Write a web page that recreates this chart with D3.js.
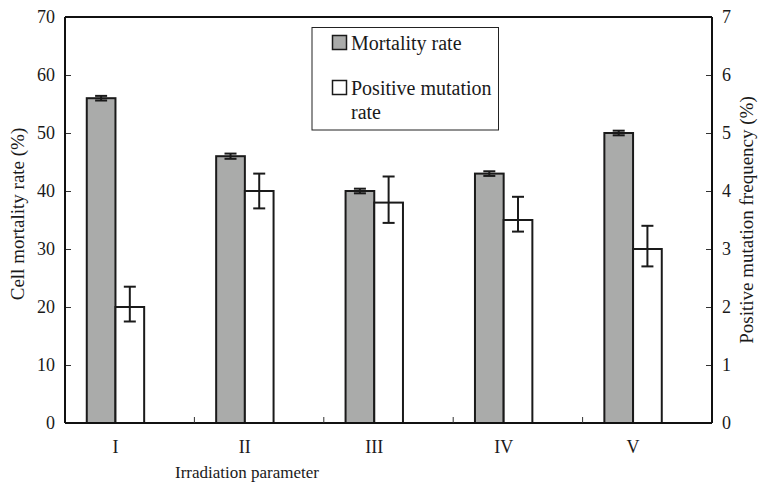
<!DOCTYPE html>
<html lang="en">
<head>
<meta charset="UTF-8">
<title>Irradiation parameter</title>
<script src="https://cdn.jsdelivr.net/npm/d3@7/dist/d3.min.js"></script>
<style>
  body { margin: 0; background: #fff; }
  svg, text { font-family: "Liberation Serif", "DejaVu Serif", serif; }
  text { fill: #1a1a1a; }
</style>
</head>
<body>
<svg width="758" height="484"></svg>
<script>
// data
var categories = ['I', 'II', 'III', 'IV', 'V'];
var mortality = [56, 46, 40, 43, 50];
var mortalityErr = [0.4, 0.45, 0.4, 0.4, 0.4];
var mutation = [2.0, 4.0, 3.8, 3.5, 3.0];
var mutationHigh = [2.35, 4.3, 4.25, 3.9, 3.4];
var mutationLow = [1.75, 3.7, 3.45, 3.3, 2.7];
var leftTicks = [0, 10, 20, 30, 40, 50, 60, 70];
var rightTicks = [0, 1, 2, 3, 4, 5, 6, 7];

var svg = d3.select('svg');
// plot edges (note: "top" is taken by window.top)
var pLeft = 65, pRight = 712, pTop = 17, pBottom = 423;
var serif = '"Liberation Serif", "DejaVu Serif", serif';

var x = d3.scaleBand().domain(categories).range([pLeft, pRight]);
var yL = d3.scaleLinear().domain([0, 70]).range([pBottom, pTop]);
var yR = d3.scaleLinear().domain([0, 7]).range([pBottom, pTop]);

var barW = 28.7;
var centerOff = x.bandwidth() * 0.39; // bars sit left of band centre
function cx(c) { return x(c) + centerOff; }

var ink = '#1a1a1a';

// bars - mortality (grey)
svg.append('g').selectAll('rect')
  .data(categories).enter().append('rect')
  .attr('x', function (d) { return cx(d) - barW; })
  .attr('y', function (d, i) { return yL(mortality[i]); })
  .attr('width', barW)
  .attr('height', function (d, i) { return pBottom - yL(mortality[i]); })
  .attr('fill', '#aaabaa')
  .attr('stroke', ink).attr('stroke-width', 2);

// bars - mutation (white)
svg.append('g').selectAll('rect')
  .data(categories).enter().append('rect')
  .attr('x', function (d) { return cx(d); })
  .attr('y', function (d, i) { return yR(mutation[i]); })
  .attr('width', barW)
  .attr('height', function (d, i) { return pBottom - yR(mutation[i]); })
  .attr('fill', '#fff')
  .attr('stroke', ink).attr('stroke-width', 2);

// error bars
function errBar(g, xc, y1, y2) {
  var cap = 6;
  g.append('line').attr('x1', xc).attr('x2', xc).attr('y1', y1).attr('y2', y2);
  g.append('line').attr('x1', xc - cap).attr('x2', xc + cap).attr('y1', y1).attr('y2', y1);
  g.append('line').attr('x1', xc - cap).attr('x2', xc + cap).attr('y1', y2).attr('y2', y2);
}
var eg = svg.append('g').attr('stroke', ink).attr('stroke-width', 2);
categories.forEach(function (c, i) {
  errBar(eg, cx(c) - barW / 2, yL(mortality[i] + mortalityErr[i]), yL(mortality[i] - mortalityErr[i]));
  errBar(eg, cx(c) + barW / 2, yR(mutationHigh[i]), yR(mutationLow[i]));
});

// axes
var axL = d3.axisLeft(yL).tickValues(leftTicks).tickFormat(d3.format('d')).tickSize(-6).tickPadding(10);
var axR = d3.axisRight(yR).tickValues(rightTicks).tickFormat(d3.format('d')).tickSize(-6).tickPadding(10);

var gl = svg.append('g').attr('transform', 'translate(' + pLeft + ',0)').call(axL);
var gr = svg.append('g').attr('transform', 'translate(' + pRight + ',0)').call(axR);
[gl, gr].forEach(function (g) {
  g.attr('font-family', serif).attr('font-size', 18);
  g.select('.domain').remove();
  g.selectAll('line').attr('stroke', '#333').attr('stroke-width', 1);
  g.selectAll('text').attr('fill', ink);
});

// frame lines
var frame = svg.append('g').attr('stroke', '#111').attr('stroke-width', 2).attr('fill', 'none');
frame.append('line').attr('x1', pLeft).attr('x2', pRight).attr('y1', pTop).attr('y2', pTop);
frame.append('line').attr('x1', pLeft).attr('x2', pRight).attr('y1', pBottom).attr('y2', pBottom);
frame.append('line').attr('x1', pLeft).attr('x2', pLeft).attr('y1', pTop).attr('y2', pBottom);
frame.append('line').attr('x1', pRight).attr('x2', pRight).attr('y1', pTop).attr('y2', pBottom);

// x ticks between categories
svg.append('g').selectAll('line')
  .data(categories.slice(1)).enter().append('line')
  .attr('x1', function (d) { return x(d); })
  .attr('x2', function (d) { return x(d); })
  .attr('y1', pBottom).attr('y2', pBottom - 6)
  .attr('stroke', '#333').attr('stroke-width', 1);

// category labels
svg.append('g').selectAll('text')
  .data(categories).enter().append('text')
  .attr('x', function (d) { return cx(d); })
  .attr('y', 453)
  .attr('text-anchor', 'middle')
  .attr('font-size', 18)
  .text(function (d) { return d; });

// titles
svg.append('text').attr('x', 247).attr('y', 478).attr('text-anchor', 'middle')
  .attr('font-size', 17).text('Irradiation parameter');
svg.append('text').attr('transform', 'translate(24,214) rotate(-90)').attr('text-anchor', 'middle')
  .attr('font-size', 19).text('Cell mortality rate (%)');
svg.append('text').attr('transform', 'translate(753,220) rotate(-90)').attr('text-anchor', 'middle')
  .attr('font-size', 19).text('Positive mutation frequency (%)');

// legend
var lg = svg.append('g');
lg.append('rect').attr('x', 312).attr('y', 27.5).attr('width', 186.5).attr('height', 102.5)
  .attr('fill', '#fff').attr('stroke', '#222').attr('stroke-width', 1);
lg.append('rect').attr('x', 332.5).attr('y', 35.5).attr('width', 14).attr('height', 14)
  .attr('fill', '#aaabaa').attr('stroke', ink).attr('stroke-width', 1.5);
lg.append('rect').attr('x', 332.5).attr('y', 80.5).attr('width', 14).attr('height', 14)
  .attr('fill', '#fff').attr('stroke', ink).attr('stroke-width', 1.5);
lg.append('text').attr('x', 351).attr('y', 50).attr('font-size', 20).text('Mortality rate');
lg.append('text').attr('x', 351).attr('y', 95).attr('font-size', 20).text('Positive mutation');
lg.append('text').attr('x', 351).attr('y', 119).attr('font-size', 20).text('rate');
</script>
</body>
</html>
